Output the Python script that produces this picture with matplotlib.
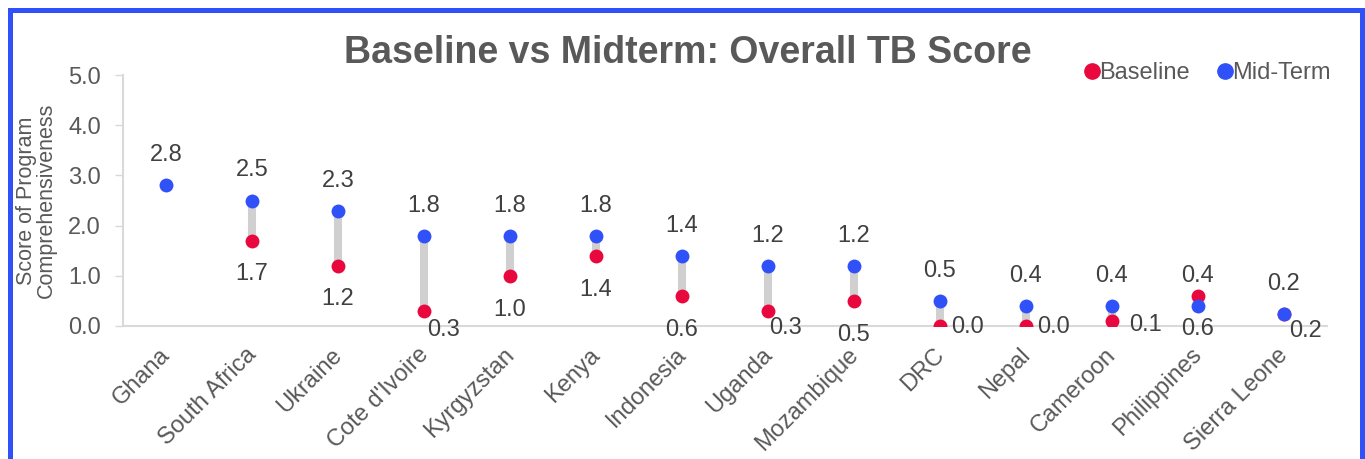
import matplotlib
matplotlib.use("Agg")
import matplotlib.pyplot as plt
import matplotlib.patches as mpatches
import matplotlib.transforms as mtransforms
from matplotlib.lines import Line2D
import numpy as np

plt.rcParams['font.family'] = ['Liberation Sans', 'DejaVu Sans']

countries = ["Ghana", "South Africa", "Ukraine", "Cote d'Ivoire", "Kyrgyzstan", "Kenya",
             "Indonesia", "Uganda", "Mozambique", "DRC", "Nepal", "Cameroon",
             "Philippines", "Sierra Leone"]
baseline = [np.nan, 1.7, 1.2, 0.3, 1.0, 1.4, 0.6, 0.3, 0.5, 0.0, 0.0, 0.1, 0.6, 0.24]
midterm = [2.8, 2.5, 2.3, 1.8, 1.8, 1.8, 1.4, 1.2, 1.2, 0.5, 0.4, 0.4, 0.4, 0.24]
yticks = [0.0, 1.0, 2.0, 3.0, 4.0, 5.0]

# label placement offsets (pixels) for baseline labels
base_offsets = [(0, -33), (0, -33), (0, -33), (19, -19), (0, -34), (0, -34), (0, -34),
                (17, -17), (0, -34), (27, -1), (27, -1), (33, -4), (0, -33), (21, -17)]

RED = '#E8083E'
BLUE = '#3050F8'
GRAY_TXT = '#595959'
LBL_TXT = '#404040'
FS = 17

W, H = 1365, 459
fig = plt.figure(figsize=(W / 100, H / 100), dpi=100)
ax = fig.add_axes([123 / W, 1 - 326 / H, (1327 - 123) / W, (326 - 75) / H])

x = np.arange(len(countries))
for xi, b, m in zip(x, baseline, midterm):
    if not np.isnan(b):
        ax.plot([xi, xi], [b, m], color='#D0D0D0', lw=5.8, zorder=1, solid_capstyle='butt')

ax.scatter(x, baseline, s=100, color=RED, zorder=3, linewidths=0)
ax.scatter(x, midterm, s=100, color=BLUE, zorder=4, linewidths=0)

for xi, m in zip(x, midterm):
    ax.annotate(f"{m:.1f}", (xi, m), xytext=(0, 30), textcoords='offset pixels',
                ha='center', va='center', fontsize=FS, color=LBL_TXT, zorder=5)
for xi, b, off in zip(x, baseline, base_offsets):
    if np.isnan(b):
        continue
    ax.annotate(f"{b:.1f}", (xi, b), xytext=off, textcoords='offset pixels',
                ha='center', va='center', fontsize=FS, color=LBL_TXT, zorder=5,
                annotation_clip=False)

ax.set_xlim(-0.5, len(countries) - 0.5)
ax.set_ylim(0, 5)
ax.set_yticks(yticks)
ax.set_yticklabels([f"{t:.1f}" for t in yticks], fontsize=FS, color=GRAY_TXT)
ax.set_xticks(x)
ax.set_xticklabels(countries, rotation=45, ha='right', rotation_mode='anchor',
                   fontsize=FS, color=GRAY_TXT)
ax.tick_params(axis='x', length=0, pad=10)
ax.tick_params(axis='y', length=6, width=1, color='#D9D9D9', pad=10)
shift = mtransforms.ScaledTranslation(-7 / 100, -4 / 100, fig.dpi_scale_trans)
for lbl in ax.get_xticklabels():
    lbl.set_transform(lbl.get_transform() + shift)
for s in ['top', 'right']:
    ax.spines[s].set_visible(False)
for s in ['left', 'bottom']:
    ax.spines[s].set_color('#D9D9D9')
    ax.spines[s].set_linewidth(1.5)

ax.set_ylabel("Score of Program\nComprehensiveness", fontsize=15.5, color=GRAY_TXT,
              labelpad=8, linespacing=0.95)

fig.text(688 / W, 1 - 53 / H, "Baseline vs Midterm: Overall TB Score", ha='center',
         va='center', fontsize=27, fontweight='bold', color=GRAY_TXT)

handles = [Line2D([], [], marker='o', ls='', color=RED, markersize=11),
           Line2D([], [], marker='o', ls='', color=BLUE, markersize=11)]
fig.legend(handles, ["Baseline", "Mid-Term"], loc='center right',
           bbox_to_anchor=(1340 / W, 1 - 73 / H), ncol=2, frameon=False,
           fontsize=17, handletextpad=-0.2, columnspacing=1.0, labelcolor=GRAY_TXT,
           borderaxespad=0, handlelength=1.0)

rect = mpatches.Rectangle((10 / W, -0.05), (1362 - 10) / W, 1.05 - 10 / H,
                          transform=fig.transFigure, fill=False, edgecolor=BLUE,
                          linewidth=3.6, zorder=10)
fig.patches.append(rect)

fig.savefig("out.png", dpi=100, facecolor='white')
